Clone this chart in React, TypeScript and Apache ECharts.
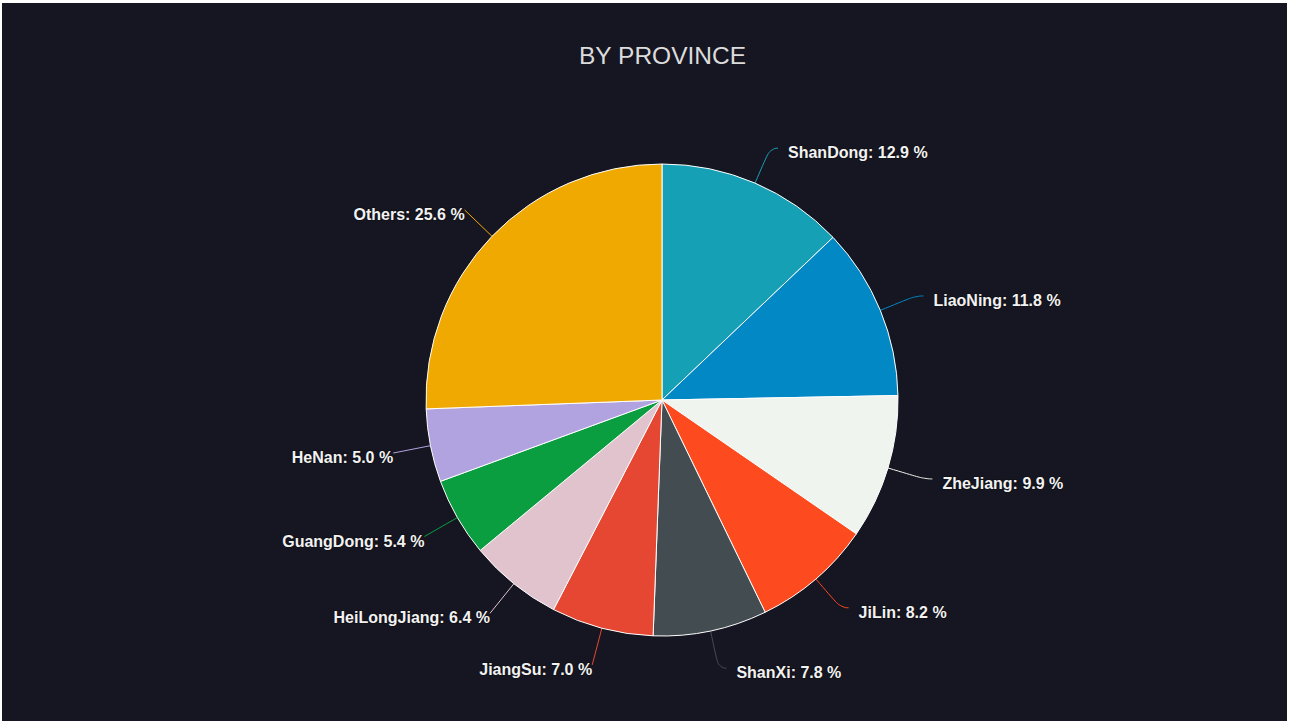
import React, { useEffect, useRef } from "react";
import * as echarts from "echarts";

const TITLE = "BY PROVINCE";
const categories = [
  "ShanDong",
  "LiaoNing",
  "ZheJiang",
  "JiLin",
  "ShanXi",
  "JiangSu",
  "HeiLongJiang",
  "GuangDong",
  "HeNan",
  "Others",
];
const values = [12.9, 11.8, 9.9, 8.2, 7.8, 7.0, 6.4, 5.4, 5.0, 25.6];
const colors = [
  "#16a0b5",
  "#0288c5",
  "#eff4ee",
  "#fe4a1f",
  "#434c50",
  "#e64733",
  "#e0c3cd",
  "#0a9e40",
  "#b1a2e0",
  "#f0a900",
];
// slices whose labels sit on the left of the pie
const leftSide = ["JiangSu", "HeiLongJiang", "GuangDong", "HeNan", "Others"];

export default function App() {
  const ref = useRef<HTMLDivElement>(null);
  useEffect(() => {
    if (!ref.current) return;
    const chart = echarts.init(ref.current, undefined, { renderer: "svg" });
    chart.setOption({
      animation: false,
      backgroundColor: "#161622",
      color: colors,
      title: {
        text: TITLE,
        left: 572,
        top: 35,
        textStyle: {
          color: "#dcdcdc",
          fontSize: 24.5,
          fontWeight: "normal",
          fontFamily: "Liberation Sans, Arial, sans-serif",
        },
      },
      series: [
        {
          type: "pie",
          center: [660, 397],
          radius: 236,
          startAngle: 90,
          clockwise: true,
          data: categories.map((c, i) =>
            leftSide.includes(c)
              ? {
                  name: c,
                  value: values[i],
                  label: { distanceToLabelLine: 0 },
                  labelLine: { length2: 0 },
                }
              : { name: c, value: values[i] }
          ),
          itemStyle: { borderColor: "#ffffff", borderWidth: 1 },
          label: {
            formatter: (p: any) => `{t|${p.name}: ${p.percent.toFixed(1)} %}`,
            distanceToLabelLine: 10,
            rich: {
              t: {
                color: "#f2f2f2",
                fontSize: 16,
                fontWeight: "bold",
                fontFamily: "Liberation Sans, Arial, sans-serif",
                textBorderColor: "#111118",
                textBorderWidth: 2,
                padding: [9, 0, 0, 0],
              },
            },
          },
          labelLine: {
            length: 38,
            length2: 8,
            smooth: 0.6,
            lineStyle: { width: 1 },
          },
        },
      ],
    });
    return () => chart.dispose();
  }, []);
  return (
    <div
      ref={ref}
      style={{ position: "fixed", left: 2, top: 3, width: 1285, height: 718 }}
    />
  );
}
